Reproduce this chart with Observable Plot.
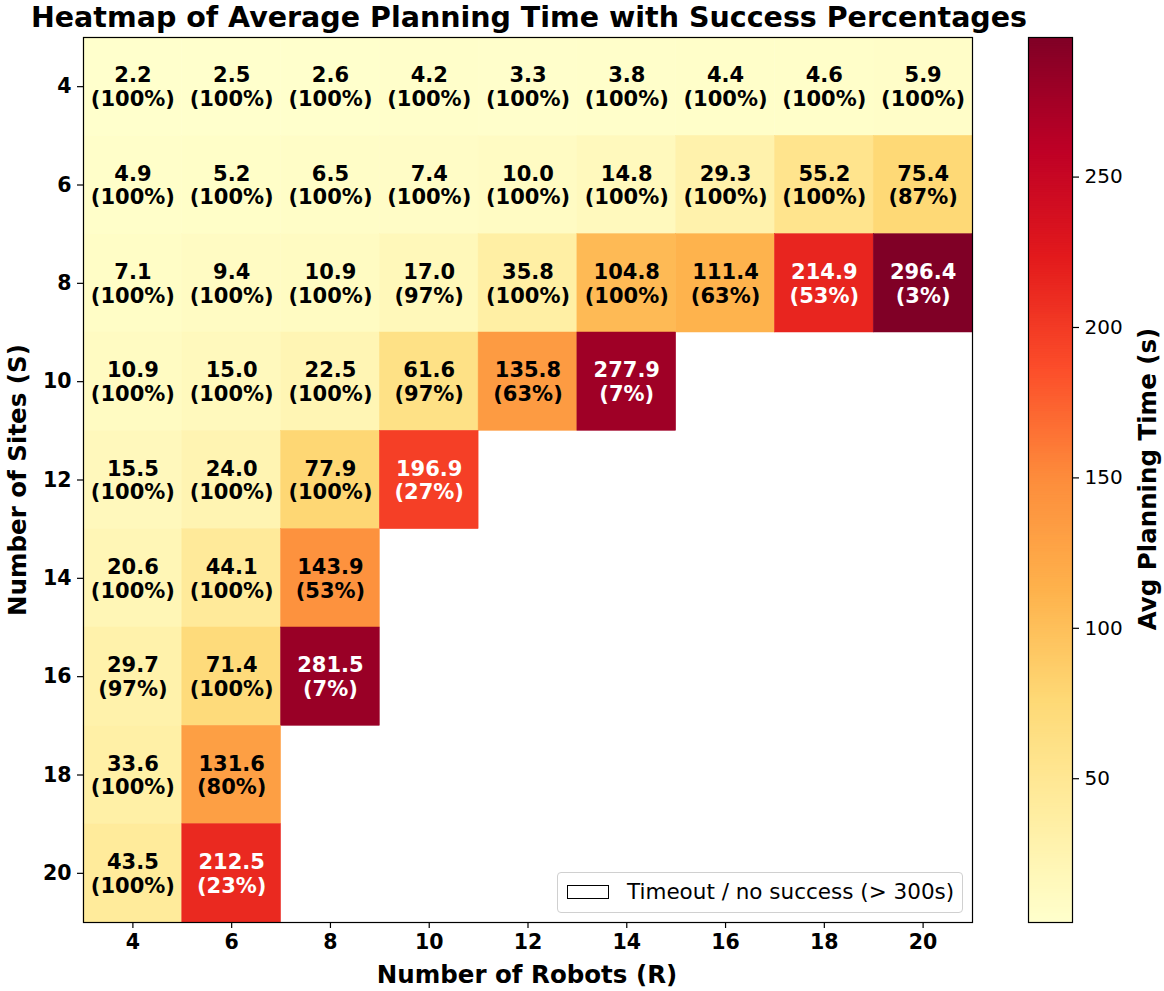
<!DOCTYPE html>
<html>
<head>
<meta charset="utf-8">
<script src="https://cdn.jsdelivr.net/npm/d3@7"></script>
<script src="https://cdn.jsdelivr.net/npm/@observablehq/plot@0.6"></script>
<style>
  html, body { margin: 0; padding: 0; background: #fff; }
  #wrap { position: relative; width: 1164px; height: 991px; font-family: "DejaVu Sans", sans-serif; overflow: hidden; }
  #wrap > * { position: absolute; }
  .lbl { transform: translate(-50%, -50%); white-space: nowrap; color: #000; }
</style>
</head>
<body>
<div id="wrap"></div>
<script>
// ---- data ----
const robots = [4, 6, 8, 10, 12, 14, 16, 18, 20];
const sites = [4, 6, 8, 10, 12, 14, 16, 18, 20];
// average planning time (s), one row per number of sites; null = timeout / no success
const timeS4  = [2.2, 2.5, 2.6, 4.2, 3.3, 3.8, 4.4, 4.6, 5.9];
const timeS6  = [4.9, 5.2, 6.5, 7.4, 10.0, 14.8, 29.3, 55.2, 75.4];
const timeS8  = [7.1, 9.4, 10.9, 17.0, 35.8, 104.8, 111.4, 214.9, 296.4];
const timeS10 = [10.9, 15.0, 22.5, 61.6, 135.8, 277.9, null, null, null];
const timeS12 = [15.5, 24.0, 77.9, 196.9, null, null, null, null, null];
const timeS14 = [20.6, 44.1, 143.9, null, null, null, null, null, null];
const timeS16 = [29.7, 71.4, 281.5, null, null, null, null, null, null];
const timeS18 = [33.6, 131.6, null, null, null, null, null, null, null];
const timeS20 = [43.5, 212.5, null, null, null, null, null, null, null];
// success percentages
const succS4  = [100, 100, 100, 100, 100, 100, 100, 100, 100];
const succS6  = [100, 100, 100, 100, 100, 100, 100, 100, 87];
const succS8  = [100, 100, 100, 97, 100, 100, 63, 53, 3];
const succS10 = [100, 100, 100, 97, 63, 7, null, null, null];
const succS12 = [100, 100, 100, 27, null, null, null, null, null];
const succS14 = [100, 100, 53, null, null, null, null, null, null];
const succS16 = [97, 100, 7, null, null, null, null, null, null];
const succS18 = [100, 80, null, null, null, null, null, null, null];
const succS20 = [100, 23, null, null, null, null, null, null, null];
const colorTicks = [50, 100, 150, 200, 250];
const ylorrd = ["#ffffcc", "#ffeda0", "#fed976", "#feb24c", "#fd8d3c", "#fc4e2a", "#e31a1c", "#bd0026", "#800026"];

const timeRows = [timeS4, timeS6, timeS8, timeS10, timeS12, timeS14, timeS16, timeS18, timeS20];
const succRows = [succS4, succS6, succS8, succS10, succS12, succS14, succS16, succS18, succS20];
const cells = [];
sites.forEach((s, i) => robots.forEach((r, j) => {
  const t = timeRows[i][j];
  if (t != null) cells.push({ r, s, t, p: succRows[i][j] });
}));
const tMin = d3.min(cells, d => d.t), tMax = d3.max(cells, d => d.t);
const colorDomain = ylorrd.map((_, i) => tMin + (tMax - tMin) * i / (ylorrd.length - 1));
const colorOpts = { type: "linear", domain: colorDomain, range: ylorrd, interpolate: "rgb" };

const FONT = "DejaVu Sans, sans-serif";
const wrap = document.getElementById("wrap");

// ---- main heatmap ----
const main = Plot.plot({
  width: 1000, height: 991,
  marginLeft: 83, marginRight: 28, marginTop: 37, marginBottom: 69,
  style: { fontFamily: FONT, background: "transparent", overflow: "visible" },
  x: { type: "band", domain: robots, padding: 0, round: false, label: null },
  y: { type: "band", domain: sites, padding: 0, round: false, label: null },
  color: colorOpts,
  marks: [
    Plot.cell(cells, { x: "r", y: "s", fill: "t", inset: 0, stroke: "t", strokeWidth: 0.5 }),
    Plot.text(cells, {
      x: "r", y: "s",
      text: d => `${d.t.toFixed(1)}\n(${d.p}%)`,
      fill: d => d.t > 150 ? "white" : "black",
      fontSize: 21, fontWeight: "bold", lineHeight: 1.13
    }),
    Plot.frame({ stroke: "black", strokeWidth: 1.2 }),
    Plot.axisX({ tickSize: 6, tickPadding: 6, fontSize: 20.5, fontWeight: "bold", label: null, strokeWidth: 1.2 }),
    Plot.axisY({ tickSize: 6, tickPadding: 6, fontSize: 20.5, fontWeight: "bold", label: null, strokeWidth: 1.2 })
  ]
});
main.style.left = "0px"; main.style.top = "0px";
wrap.appendChild(main);

// ---- colorbar ----
const N = 400;
const steps = d3.range(N).map(i => tMin + (tMax - tMin) * i / N);
const stepH = (tMax - tMin) / N;
const cbar = Plot.plot({
  width: 164, height: 991,
  marginLeft: 28, marginRight: 92, marginTop: 37, marginBottom: 69,
  style: { fontFamily: FONT, background: "transparent", overflow: "visible" },
  x: { domain: [0, 1], axis: null },
  y: { domain: [tMin, tMax], label: null },
  color: colorOpts,
  marks: [
    Plot.rect(steps, { x1: 0, x2: 1, y1: d => d, y2: d => Math.min(tMax, d + stepH * 1.6), fill: d => d + stepH / 2 }),
    Plot.frame({ stroke: "black", strokeWidth: 1.2 }),
    Plot.axisY({ anchor: "right", ticks: colorTicks, tickFormat: d => String(d), tickSize: 6, tickPadding: 6, fontSize: 20, label: null, strokeWidth: 1.2 })
  ]
});
cbar.style.left = "1000px"; cbar.style.top = "0px";
wrap.appendChild(cbar);

// ---- text: title, axis labels ----
function addLabel(txt, x, y, size, weight, rotate) {
  const d = document.createElement("div");
  d.className = "lbl";
  d.textContent = txt;
  d.style.left = x + "px"; d.style.top = y + "px";
  d.style.fontSize = size + "px"; d.style.fontWeight = weight;
  if (rotate) d.style.transform = "translate(-50%, -50%) rotate(-90deg)";
  wrap.appendChild(d);
  return d;
}
addLabel("Heatmap of Average Planning Time with Success Percentages", 529, 17, 28.5, "bold");
addLabel("Number of Robots (R)", 527, 974, 24.5, "bold");
addLabel("Number of Sites (S)", 17, 480, 24.5, "bold", true);
addLabel("Avg Planning Time (s)", 1147, 479, 24.5, "bold", true);

// ---- legend ----
const leg = document.createElement("div");
leg.style.cssText = "left:557px;top:872px;width:404px;height:39px;border:1px solid #d0d0d0;border-radius:4px;background:rgba(255,255,255,0.85);";
const patch = document.createElement("div");
patch.style.cssText = "position:absolute;left:9px;top:12px;width:40px;height:12px;border:1.3px solid #000;background:#fff;";
const ltxt = document.createElement("div");
ltxt.textContent = "Timeout / no success (> 300s)";
ltxt.style.cssText = "position:absolute;left:69px;top:0;line-height:38px;font-size:21.5px;white-space:nowrap;";
leg.appendChild(patch); leg.appendChild(ltxt);
wrap.appendChild(leg);
</script>
</body>
</html>
